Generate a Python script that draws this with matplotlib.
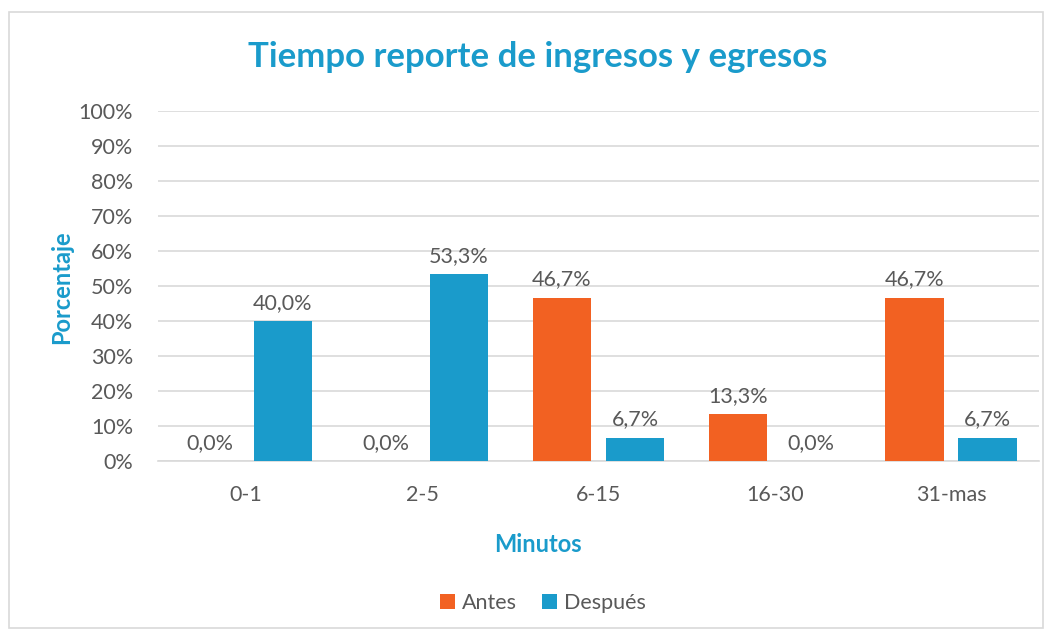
import matplotlib.pyplot as plt
import numpy as np
from matplotlib.patches import Rectangle

categorias = ["0-1", "2-5", "6-15", "16-30", "31-mas"]
antes = [0.0, 0.0, 46.7, 13.3, 46.7]
despues = [40.0, 53.3, 6.7, 0.0, 6.7]

naranja = "#F26122"
azul = "#1A9BCB"
gris = "#595959"

plt.rcParams['font.family'] = ['Lato', 'DejaVu Sans']

fig = plt.figure(figsize=(10.52, 6.33), dpi=100)
fig.patches.append(Rectangle((9 / 1052, 1 - 628 / 633), 1034 / 1052, 616 / 633,
                             transform=fig.transFigure, fill=False,
                             edgecolor="#D9D9D9", linewidth=1.2))
ax = fig.add_axes([0.1502, 0.2717, 0.8375, 0.5529])

x = np.arange(len(categorias))
w = 0.33
off = 0.207
b1 = ax.bar(x - off, antes, w, color=naranja, label="Antes", zorder=3)
b2 = ax.bar(x + off, despues, w, color=azul, label="Después", zorder=3)

for bars, vals in ((b1, antes), (b2, despues)):
    for b, v in zip(bars, vals):
        ax.text(b.get_x() + b.get_width() / 2, v + 2.3, f"{v:.1f}%".replace(".", ","),
                ha="center", va="bottom", fontsize=15.5, color=gris)

ax.set_xlim(-0.5, len(categorias) - 0.5)
ax.set_ylim(0, 100)
ax.set_yticks(range(0, 101, 10))
ax.set_yticklabels([f"{t}%" for t in range(0, 101, 10)])
ax.set_xticks(x)
ax.set_xticklabels(categorias)
ax.tick_params(axis="both", length=0, labelsize=15.5, labelcolor=gris)
ax.tick_params(axis="y", pad=18)
ax.tick_params(axis="x", pad=17)
ax.grid(axis="y", color="#D9D9D9", linewidth=1.2, zorder=0)
for s in ("top", "right", "left"):
    ax.spines[s].set_visible(False)
ax.spines["bottom"].set_color("#D9D9D9")
ax.spines["bottom"].set_linewidth(1.2)

fig.text(0.511, 1 - 57 / 633, "Tiempo reporte de ingresos y egresos", ha="center", va="center",
         fontsize=25, fontweight="bold", color=azul)
fig.text(62 / 1052, 1 - 287 / 633, "Porcentaje", rotation=90, ha="center", va="center",
         fontsize=17, fontweight="bold", color=azul)
fig.text(0.511, 1 - 545 / 633, "Minutos", ha="center", va="center",
         fontsize=17, fontweight="bold", color=azul)
fig.legend(handles=[b1, b2], loc="center", bbox_to_anchor=(0.516, 1 - 603 / 633), ncol=2,
           frameon=False, fontsize=15.5, labelcolor=gris, handlelength=0.7, handleheight=0.7,
           handletextpad=0.3, columnspacing=1.2)

fig.savefig("out.png", dpi=100)
